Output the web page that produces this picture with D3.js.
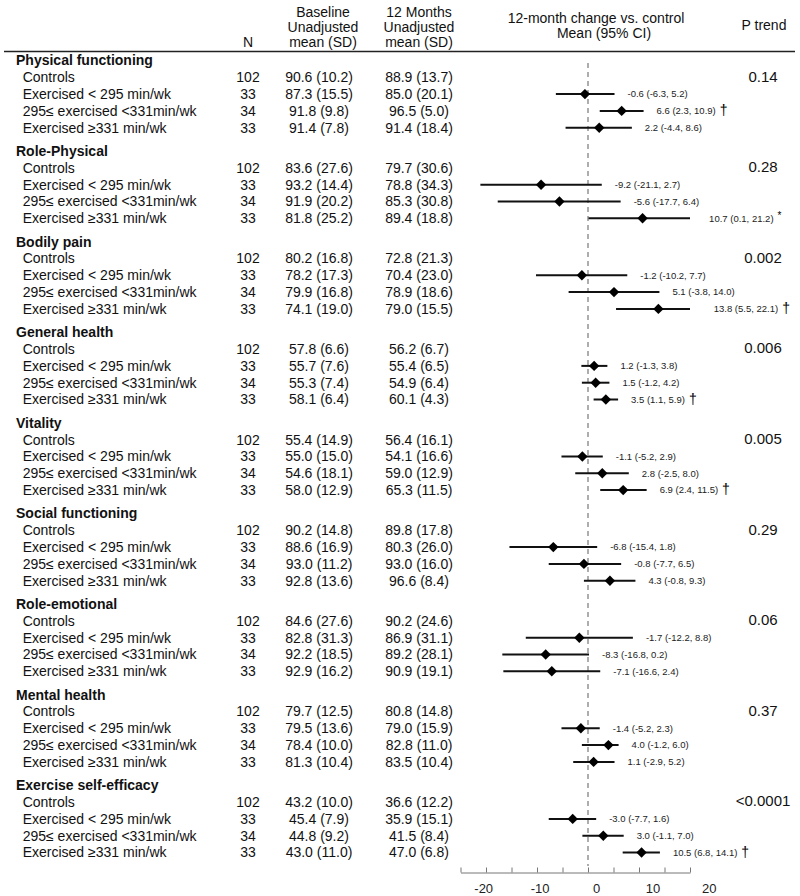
<!DOCTYPE html>
<html>
<head>
<meta charset="utf-8">
<script src="https://cdn.jsdelivr.net/npm/d3@7"></script>
<style>
  html, body { margin: 0; padding: 0; background: #fff; }
  svg { display: block; font-family: "Liberation Sans", Arial, sans-serif; }
</style>
</head>
<body>
<svg id="chart" width="800" height="896"></svg>
<script>
// data
const sections = ["Physical functioning", "Role-Physical", "Bodily pain", "General health", "Vitality",
  "Social functioning", "Role-emotional", "Mental health", "Exercise self-efficacy"];
const groups = ["Controls", "Exercised < 295 min/wk", "295\u2264 exercised <331min/wk", "Exercised \u2265331 min/wk"];
const groupN = [102, 33, 34, 33];

const baselineMean = [
  [90.6, 87.3, 91.8, 91.4], [83.6, 93.2, 91.9, 81.8], [80.2, 78.2, 79.9, 74.1],
  [57.8, 55.7, 55.3, 58.1], [55.4, 55.0, 54.6, 58.0], [90.2, 88.6, 93.0, 92.8],
  [84.6, 82.8, 92.2, 92.9], [79.7, 79.5, 78.4, 81.3], [43.2, 45.4, 44.8, 43.0]];
const baselineSD = [
  [10.2, 15.5, 9.8, 7.8], [27.6, 14.4, 20.2, 25.2], [16.8, 17.3, 16.8, 19.0],
  [6.6, 7.6, 7.4, 6.4], [14.9, 15.0, 18.1, 12.9], [14.8, 16.9, 11.2, 13.6],
  [27.6, 31.3, 18.5, 16.2], [12.5, 13.6, 10.0, 10.4], [10.0, 7.9, 9.2, 11.0]];
const monthMean = [
  [88.9, 85.0, 96.5, 91.4], [79.7, 78.8, 85.3, 89.4], [72.8, 70.4, 78.9, 79.0],
  [56.2, 55.4, 54.9, 60.1], [56.4, 54.1, 59.0, 65.3], [89.8, 80.3, 93.0, 96.6],
  [90.2, 86.9, 89.2, 90.9], [80.8, 79.0, 82.8, 83.5], [36.6, 35.9, 41.5, 47.0]];
const monthSD = [
  [13.7, 20.1, 5.0, 18.4], [30.6, 34.3, 30.8, 18.8], [21.3, 23.0, 18.6, 15.5],
  [6.7, 6.5, 6.4, 4.3], [16.1, 16.6, 12.9, 11.5], [17.8, 26.0, 16.0, 8.4],
  [24.6, 31.1, 28.1, 19.1], [14.8, 15.9, 11.0, 10.4], [12.2, 15.1, 8.4, 6.8]];

// 12-month change vs control, one value per exercise group
const changeEst = [
  [-0.6, 6.6, 2.2], [-9.2, -5.6, 10.7], [-1.2, 5.1, 13.8], [1.2, 1.5, 3.5], [-1.1, 2.8, 6.9],
  [-6.8, -0.8, 4.3], [-1.7, -8.3, -7.1], [-1.4, 4.0, 1.1], [-3.0, 3.0, 10.5]];
const changeLo = [
  [-6.3, 2.3, -4.4], [-21.1, -17.7, 0.1], [-10.2, -3.8, 5.5], [-1.3, -1.2, 1.1], [-5.2, -2.5, 2.4],
  [-15.4, -7.7, -0.8], [-12.2, -16.8, -16.6], [-5.2, -1.2, -2.9], [-7.7, -1.1, 6.8]];
const changeHi = [
  [5.2, 10.9, 8.6], [2.7, 6.4, 21.2], [7.7, 14.0, 22.1], [3.8, 4.2, 5.9], [2.9, 8.0, 11.5],
  [1.8, 6.5, 9.3], [8.8, 0.2, 2.4], [2.3, 6.0, 5.2], [1.6, 7.0, 14.1]];
const changeSig = [
  ["", "\u2020", ""], ["", "", "*"], ["", "", "\u2020"], ["", "", "\u2020"], ["", "", "\u2020"],
  ["", "", ""], ["", "", ""], ["", "", ""], ["", "", "\u2020"]];
const pTrend = ["0.14", "0.28", "0.002", "0.006", "0.005", "0.29", "0.06", "0.37", "<0.0001"];

const axisTicks = d3.range(-25, 21, 5);
const axisLabels = [-20, -10, 0, 10, 20];

// layout
const svg = d3.select("#chart");
const ink = "#111";
const lineStep = 16.8;
const sectionY = d3.scaleLinear().domain([0, 1]).range([60.5, 151.1]);
const rowY = (s, g) => sectionY(s) + (g + 1) * lineStep;

const x = d3.scaleLinear().domain([-25, 20]).range([460.5, 690]);
// tick labels in the source figure sit slightly off the tick marks
const labelX = d3.scaleLinear().domain([-20, 20]).range([483.7, 709.3]);

const col = { label: 16, sub: 22.7, n: 248, base: 319, month: 419, p: 763 };
const fmt = v => v.toFixed(1);

// header
const header = svg.append("g").attr("fill", ink).attr("font-size", 14).attr("text-anchor", "middle");
header.append("text").attr("x", col.n).attr("y", 41.7).attr("dy", "0.35em").text("N");
[["Baseline", 11.7], ["Unadjusted", 26.7], ["mean (SD)", 41.7]].forEach(([t, y]) =>
  header.append("text").attr("x", 323).attr("y", y).attr("dy", "0.35em").text(t));
[["12 Months", 11.7], ["Unadjusted", 26.7], ["mean (SD)", 41.7]].forEach(([t, y]) =>
  header.append("text").attr("x", col.month).attr("y", y).attr("dy", "0.35em").text(t));
header.append("text").attr("x", 596).attr("y", 18.3).attr("dy", "0.35em").text("12-month change vs. control");
header.append("text").attr("x", 604).attr("y", 33.3).attr("dy", "0.35em").text("Mean (95% CI)");
header.append("text").attr("x", 764).attr("y", 25).attr("dy", "0.35em").text("P trend");

svg.append("line")
  .attr("x1", 4).attr("x2", 795).attr("y1", 51.5).attr("y2", 51.5)
  .attr("stroke", "#222").attr("stroke-width", 1.5);

// zero reference line
svg.append("line")
  .attr("x1", x(0)).attr("x2", x(0)).attr("y1", 63).attr("y2", 866)
  .attr("stroke", "#9a9a9a").attr("stroke-width", 1.6).attr("stroke-dasharray", "5,4");

// table body
const sec = svg.selectAll("g.section")
  .data(sections)
  .join("g")
  .attr("class", "section");

sec.append("text")
  .attr("x", col.label).attr("y", (d, s) => sectionY(s)).attr("dy", "0.35em")
  .attr("font-size", 14).attr("font-weight", "bold").attr("fill", ink)
  .text(d => d);

sec.append("text")
  .attr("x", col.p).attr("y", (d, s) => rowY(s, 0) - 1).attr("dy", "0.35em")
  .attr("font-size", 15).attr("text-anchor", "middle").attr("fill", ink)
  .text((d, s) => pTrend[s]);

sections.forEach((name, s) => {
  const g = svg.append("g").attr("font-size", 14).attr("fill", ink);
  groups.forEach((grp, i) => {
    const y = rowY(s, i);
    g.append("text").attr("x", col.sub).attr("y", y).attr("dy", "0.35em").text(grp);
    g.append("text").attr("x", col.n).attr("y", y).attr("dy", "0.35em").attr("text-anchor", "middle").text(groupN[i]);
    g.append("text").attr("x", col.base).attr("y", y).attr("dy", "0.35em").attr("text-anchor", "middle")
      .text(`${fmt(baselineMean[s][i])} (${fmt(baselineSD[s][i])})`);
    g.append("text").attr("x", col.month).attr("y", y).attr("dy", "0.35em").attr("text-anchor", "middle")
      .text(`${fmt(monthMean[s][i])} (${fmt(monthSD[s][i])})`);
  });

  // forest plot rows (exercise groups only)
  const rows = changeEst[s].map((est, j) => ({
    est, lo: changeLo[s][j], hi: changeHi[s][j], sig: changeSig[s][j], y: rowY(s, j + 1)
  }));
  const fg = svg.append("g");
  fg.selectAll("line.ci")
    .data(rows)
    .join("line")
    .attr("class", "ci")
    .attr("x1", d => x(Math.max(d.lo, -25)))
    .attr("x2", d => x(Math.min(d.hi, 20)))
    .attr("y1", d => d.y).attr("y2", d => d.y)
    .attr("stroke", ink).attr("stroke-width", 2);
  fg.selectAll("path.est")
    .data(rows)
    .join("path")
    .attr("class", "est")
    .attr("d", d3.symbol().type(d3.symbolSquare).size(54))
    .attr("transform", d => `translate(${x(d.est)},${d.y}) rotate(45)`)
    .attr("fill", "#000");
  const lbl = fg.selectAll("text.ci-label")
    .data(rows)
    .join("text")
    .attr("class", "ci-label")
    .attr("x", d => x(d.hi) + 13)
    .attr("y", d => d.y)
    .attr("dy", "0.35em")
    .attr("font-size", 9.5)
    .attr("fill", "#222");
  lbl.append("tspan").text(d => `${fmt(d.est)} (${fmt(d.lo)}, ${fmt(d.hi)})`);
  lbl.filter(d => d.sig === "\u2020").append("tspan")
    .attr("font-size", 14).attr("fill", "#000").attr("dx", 4).attr("dy", 1).text("\u2020");
  lbl.filter(d => d.sig === "*").append("tspan")
    .attr("font-size", 10).attr("fill", "#000").attr("dx", 4).attr("dy", -3).text("*");
});

// x axis
const axisY = 872.5;
const axisG = svg.append("g")
  .attr("transform", `translate(0,${axisY})`)
  .call(d3.axisTop(x).tickValues(axisTicks).tickSize(5).tickSizeOuter(0).tickFormat(""));
axisG.select(".domain").attr("stroke", "#777");
axisG.selectAll(".tick line").attr("stroke", "#777");

svg.append("g")
  .selectAll("text")
  .data(axisLabels)
  .join("text")
  .attr("x", d => labelX(d))
  .attr("y", 888.3)
  .attr("dy", "0.35em")
  .attr("text-anchor", "middle")
  .attr("font-size", 13)
  .attr("fill", "#222")
  .text(d => d);
</script>
</body>
</html>
